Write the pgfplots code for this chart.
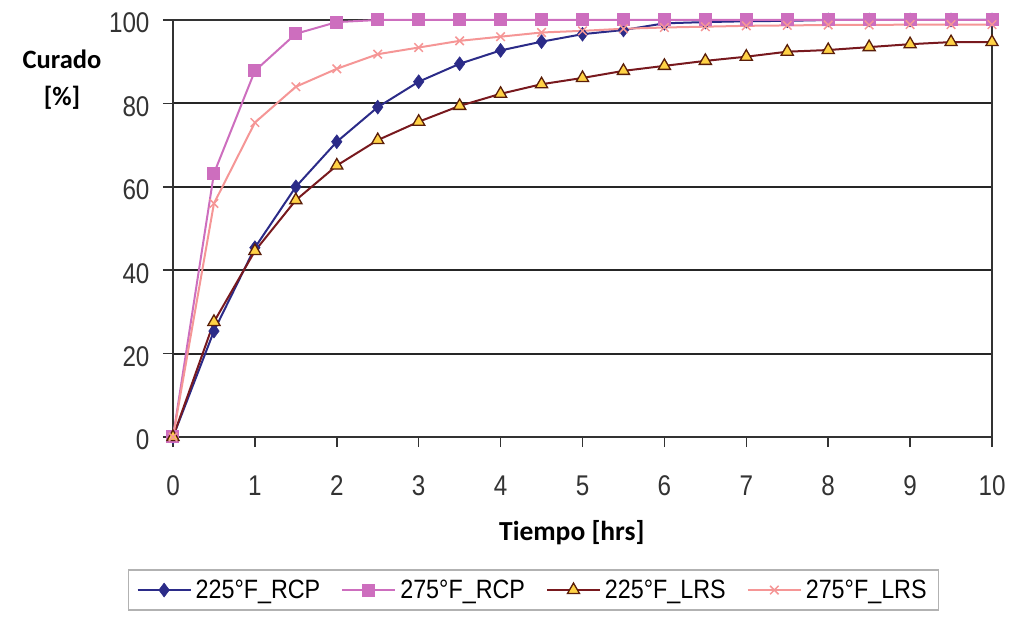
\documentclass[border=0pt]{standalone}
\usepackage{pgfplots}
\pgfplotsset{compat=1.18}
\usetikzlibrary{calc}
\usepackage{fontspec}
\setmainfont{Liberation Sans}
\newfontfamily\narrowfont[FakeStretch=0.85]{Liberation Sans}
\newfontfamily\legfont[FakeStretch=0.88]{Liberation Sans}
\newfontfamily\calib{Carlito}
\definecolor{cblue}{RGB}{43,43,136}
\definecolor{cpink}{RGB}{205,110,190}
\definecolor{csalmon}{RGB}{245,150,150}
\definecolor{cdred}{RGB}{120,25,30}
\definecolor{cyel}{RGB}{255,210,70}
\definecolor{cbrown}{RGB}{90,30,10}
\begin{document}
\begin{tikzpicture}
\begin{axis}[name=ax,
  scale only axis, width=819pt, height=417pt,
  xmin=0, xmax=10, ymin=0, ymax=100,
  xtick={0,1,...,10}, ytick={0,20,...,100},
  ymajorgrids, major grid style={line width=2pt, black!85},
  axis line style={line width=1.6pt, black!80},
  tick style={line width=1.6pt, black!80},
  major tick length=10pt, tick align=outside,
  xtick pos=bottom, ytick pos=left,
  /pgf/number format/assume math mode=true,
  ticklabel style={font=\narrowfont\fontsize{28.5}{28.5}\selectfont, text=black!80},
  xticklabel style={yshift=-25pt},
  yticklabel style={xshift=-10pt, yshift=-3pt},
  legend style={at={(axis description cs:-0.0549,-0.367)}, anchor=west,
    draw=black!30, line width=1.2pt, inner xsep=8pt, inner ysep=8pt,
    font=\legfont\fontsize{26.5}{26.5}\selectfont,
    nodes={inner xsep=4pt},
    /tikz/every even column/.append style={column sep=17pt}},
  legend columns=4,
  legend image code/.code={\draw[mark repeat=2,mark phase=2] plot coordinates {(0pt,0pt) (26.5pt,0pt) (53pt,0pt)};},
  clip=false,
]
\addplot[color=cblue, line width=2pt, mark=diamond*, mark size=7pt, mark options={fill=cblue, draw=cblue, line width=0.5pt}] coordinates {
(0,0) (0.5,25.4) (1,45.4) (1.5,60.0) (2,70.8) (2.5,79.1) (3,85.2) (3.5,89.5) (4,92.7) (4.5,94.8) (5,96.6) (5.5,97.6) (6,99.2) (6.5,99.5) (7,99.7) (7.5,99.8) (8,100) (8.5,100) (9,100) (9.5,100) (10,100)};
\addlegendentry{225°F\_RCP}
\addplot[color=cpink, line width=2pt, mark=square*, mark size=5.5pt, mark options={fill=cpink, draw=cpink}] coordinates {
(0,0) (0.5,63.2) (1,87.8) (1.5,96.7) (2,99.5) (2.5,100) (3,100) (3.5,100) (4,100) (4.5,100) (5,100) (5.5,100) (6,100) (6.5,100) (7,100) (7.5,100) (8,100) (8.5,100) (9,100) (9.5,100) (10,100)};
\addlegendentry{275°F\_RCP}
\addplot[color=cdred, line width=2pt, mark=triangle*, mark size=7pt, mark options={fill=cyel, draw=cbrown, line width=1.3pt}] coordinates {
(0,0) (0.5,27.6) (1,44.6) (1.5,56.8) (2,65.1) (2.5,71.2) (3,75.6) (3.5,79.4) (4,82.3) (4.5,84.6) (5,86.1) (5.5,87.8) (6,89.0) (6.5,90.2) (7,91.2) (7.5,92.4) (8,92.8) (8.5,93.5) (9,94.2) (9.5,94.7) (10,94.7)};
\addlegendentry{225°F\_LRS}
\addplot[color=csalmon, line width=2pt, mark=x, mark size=6pt, mark options={draw=csalmon, line width=1.5pt}] coordinates {
(0,0) (0.5,56.0) (1,75.4) (1.5,84.0) (2,88.3) (2.5,91.8) (3,93.4) (3.5,95.0) (4,96.0) (4.5,97.0) (5,97.4) (5.5,97.9) (6,98.2) (6.5,98.4) (7,98.6) (7.5,98.7) (8,98.8) (8.5,98.8) (9,98.9) (9.5,98.9) (10,98.9)};
\addlegendentry{275°F\_LRS}
\node[font=\calib\bfseries\fontsize{26.5}{37}\selectfont, align=center, anchor=center] at (axis description cs:-0.1355,0.858) {Curado\\{[\%]}};
\node[font=\calib\bfseries\fontsize{27.5}{30}\selectfont, anchor=center] at (axis description cs:0.487,-0.23) {Tiempo [hrs]};
\end{axis}
\pgfresetboundingbox
\path[use as bounding box] ($(ax.south west)+(-173pt,-181pt)$) rectangle ($(ax.north east)+(18pt,20pt)$);
\end{tikzpicture}
\end{document}
